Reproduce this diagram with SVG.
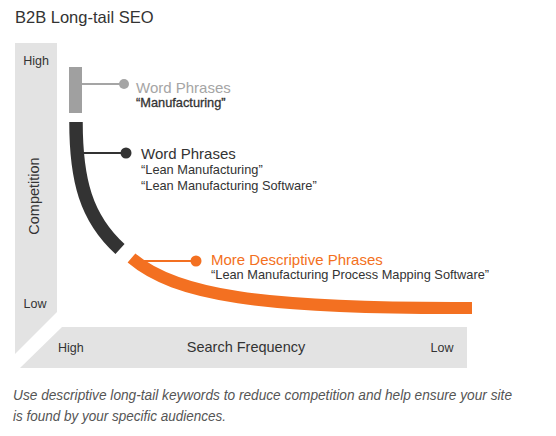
<svg xmlns="http://www.w3.org/2000/svg" width="556" height="436" viewBox="0 0 556 436">
<style>
text{font-family:"Liberation Sans",Arial,sans-serif;}
.axis{fill:#e3e3e3;}
.ax{font-size:12.5px;fill:#333;}
.axt{font-size:14.5px;fill:#333;}
.h{font-size:15px;}
.q{font-size:12.8px;fill:#333;}
.cap{font-size:14px;font-style:italic;fill:#555;}
</style>
<rect width="556" height="436" fill="#fff"/>
<text x="15" y="23" font-size="16.5" fill="#333">B2B Long-tail SEO</text>

<g id="y-axis">
<polygon class="axis" points="15,43 57,43 57,312 15,354"/>
<text class="ax" x="36" y="65" text-anchor="middle">High</text>
<text class="axt" x="0" y="0" text-anchor="middle" transform="translate(39,196) rotate(-90)" font-size="15">Competition</text>
<text class="ax" x="35" y="308" text-anchor="middle">Low</text>
</g>

<g id="x-axis">
<polygon class="axis" points="62,327 467,327 467,368 20,368"/>
<text class="ax" x="58" y="352">High</text>
<text class="axt" x="246" y="352" text-anchor="middle">Search Frequency</text>
<text class="ax" x="442" y="352" text-anchor="middle">Low</text>
</g>

<g id="connectors">
<line x1="82" y1="84" x2="124" y2="84" stroke="#a5a5a5" stroke-width="2"/>
<circle cx="124" cy="84" r="5" fill="#a5a5a5"/>
<line x1="84" y1="153" x2="126" y2="153" stroke="#333" stroke-width="2"/>
<circle cx="126" cy="153" r="5.5" fill="#333"/>
<line x1="140" y1="261" x2="196" y2="261" stroke="#f37021" stroke-width="2"/>
<circle cx="196" cy="261" r="5.5" fill="#f37021"/>
</g>

<g id="high-competition">
<rect x="69" y="67" width="13" height="46" fill="#a0a0a0"/>
<text class="h" x="136" y="93" fill="#a5a5a5">Word Phrases</text>
<text class="q" x="136" y="107" stroke="#333" stroke-width="0.3">“Manufacturing”</text>
</g>

<g id="mid-competition">
<path d="M76,122 C76,180 86,218 120,249" fill="none" stroke="#333" stroke-width="13.5"/>
<text class="h" x="141" y="159" fill="#333">Word Phrases</text>
<text class="q" x="141" y="174">“Lean Manufacturing”</text>
<text class="q" x="141" y="190">“Lean Manufacturing Software”</text>
</g>

<g id="low-competition">
<path d="M131.5,258 C175,295 260,309 472,308" fill="none" stroke="#f37021" stroke-width="12"/>
<text class="h" x="211" y="265" fill="#f37021">More Descriptive Phrases</text>
<text class="q" x="211" y="279">“Lean Manufacturing Process Mapping Software”</text>
</g>

<text class="cap" x="13" y="400" textLength="499" lengthAdjust="spacingAndGlyphs">Use descriptive long-tail keywords to reduce competition and help ensure your site</text>
<text class="cap" x="13" y="421" textLength="213" lengthAdjust="spacingAndGlyphs">is found by your specific audiences.</text>
</svg>
